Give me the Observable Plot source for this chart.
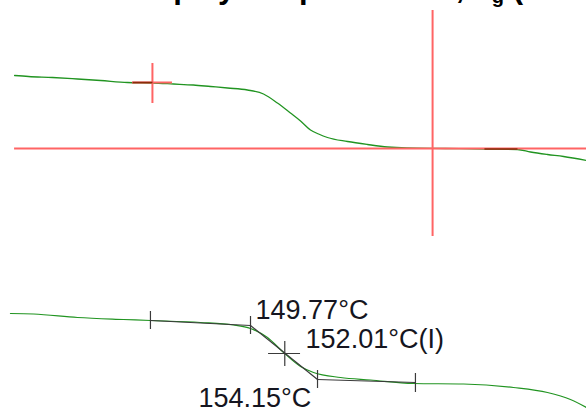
<!DOCTYPE html>
<html><head><meta charset="utf-8">
<script src="https://cdn.jsdelivr.net/npm/d3@7"></script>
<script src="https://cdn.jsdelivr.net/npm/@observablehq/plot@0.6"></script>
<style>
html,body{margin:0;padding:0;background:#fff;overflow:hidden}
#wrap{position:relative;width:586px;height:409px;overflow:hidden}
#title{position:absolute;left:-18px;top:-28px;font:bold 31px "Liberation Sans",Arial,sans-serif;line-height:31px;white-space:nowrap;color:#000;z-index:2}
#title sub{font-size:20px;vertical-align:-5px;line-height:0}
#chart svg{display:block}
</style></head><body>
<div id="wrap"><div id="title">Heat flow display: step methods, T<sub>g</sub> (DSC)</div><div id="chart"></div></div>
<script>
// ---- shared temperature axis (°C) ----
const tempDomain = [133.43, 171.73];

// ---- top panel: cursor view ----
const topTemp = [134.35,135.26,136.83,138.46,139.97,141.73,143.36,144.74,146.04,147.16,148.27,149.57,150.62,151.53,152.38,153.04,153.69,154.22,154.80,156.11,157.42,158.72,159.97,162.51,165.06,167.22,168.07,169.18,170.23,171.73];
const topHeat = [1.46,1.44,1.42,1.39,1.36,1.32,1.31,1.29,1.27,1.24,1.21,1.17,1.09,0.91,0.71,0.55,0.37,0.29,0.22,0.14,0.08,0.03,0.01,0.00,-0.01,-0.02,-0.07,-0.12,-0.16,-0.24];
const topHeatDomain = [-2.04, 2.96];
const cursorTemp = 161.67, cursorSpan = [-1.76, 2.76];
const refLevel = 0, refSpan = [134.35, 171.73];
const markTemp = 143.36, markHeat = 1.32, markSpanHeat = [0.90, 1.70], markSpanTemp = [142.06, 144.67];
const selA = [142.06, 143.36], selAHeat = 1.32;
const selB = [165.06, 167.22], selBHeat = -0.01;

// ---- bottom panel: step analysis ----
const botTemp = [134.08,135.59,138.46,141.47,143.23,146.50,148.66,149.77,150.88,151.93,153.04,153.89,155.65,157.61,160.42,163.69,166.96,169.18,170.68,171.73];
const botHeat = [1.34,1.33,1.26,1.22,1.20,1.16,1.11,1.04,0.86,0.56,0.28,0.16,0.06,0.01,-0.06,-0.07,-0.14,-0.24,-0.38,-0.54];
const botHeatDomain = [-0.58, 2.6];
const onset = 149.77, inflection = 152.01, endset = 154.15;
const fitTemp = [143.23, 149.77, 154.15, 160.55];
const fitHeat = [1.20, 1.10, 0.02, -0.04];
const tickLow = [1.02, 0.92, -0.16, -0.24];
const tickHigh = [1.38, 1.28, 0.20, 0.14];
const inflHeat = 0.54, inflSpanTemp = [150.95, 153.04], inflSpanHeat = [0.28, 0.78];
const labelTemp = [150.10, 153.37, 146.37];
const labelHeat = [1.24, 0.66, -0.52];
const labelText = [onset.toFixed(2) + "°C", inflection.toFixed(2) + "°C(I)", endset.toFixed(2) + "°C"];

const green = "#219421", red = "#ff6464", dark = "#8a2a0a", ink = "#3a3a3a";

const topData = topTemp.map((t, i) => ({t, h: topHeat[i]}));
const topPlot = Plot.plot({
  width: 586, height: 250, margin: 0,
  x: {domain: tempDomain, axis: null},
  y: {domain: topHeatDomain, axis: null},
  marks: [
    Plot.line(topData, {x: "t", y: "h", stroke: green, strokeWidth: 1.3, curve: "monotone-x"}),
    Plot.ruleY([{h: refLevel, a: refSpan[0], b: refSpan[1]}], {y: "h", x1: "a", x2: "b", stroke: red, strokeWidth: 2}),
    Plot.ruleX([{t: cursorTemp, a: cursorSpan[0], b: cursorSpan[1]}], {x: "t", y1: "a", y2: "b", stroke: red, strokeWidth: 2}),
    Plot.ruleY([{h: markHeat, a: markSpanTemp[0], b: markSpanTemp[1]}], {y: "h", x1: "a", x2: "b", stroke: red, strokeWidth: 2}),
    Plot.ruleX([{t: markTemp, a: markSpanHeat[0], b: markSpanHeat[1]}], {x: "t", y1: "a", y2: "b", stroke: red, strokeWidth: 2}),
    Plot.link([{a: selA[0], b: selA[1], h: selAHeat}, {a: selB[0], b: selB[1], h: selBHeat}], {x1: "a", x2: "b", y1: "h", y2: "h", stroke: dark, strokeWidth: 1.6})
  ]
});

const botData = botTemp.map((t, i) => ({t, h: botHeat[i]}));
const fitSegs = fitTemp.slice(0, -1).map((t, i) => ({x1: t, x2: fitTemp[i + 1], y1: fitHeat[i], y2: fitHeat[i + 1]}));
const ticks = fitTemp.map((t, i) => ({t, lo: tickLow[i], hi: tickHigh[i]}));
const labels = labelText.map((s, i) => ({s, t: labelTemp[i], h: labelHeat[i]}));
const botPlot = Plot.plot({
  width: 586, height: 159, margin: 0,
  x: {domain: tempDomain, axis: null},
  y: {domain: botHeatDomain, axis: null},
  marks: [
    Plot.line(botData, {x: "t", y: "h", stroke: green, strokeWidth: 1.2, curve: "monotone-x"}),
    Plot.link(fitSegs, {x1: "x1", x2: "x2", y1: "y1", y2: "y2", stroke: ink, strokeWidth: 1.2}),
    Plot.ruleX(ticks, {x: "t", y1: "lo", y2: "hi", stroke: ink, strokeWidth: 1.2}),
    Plot.ruleY([{h: inflHeat, a: inflSpanTemp[0], b: inflSpanTemp[1]}], {y: "h", x1: "a", x2: "b", stroke: ink, strokeWidth: 1.2}),
    Plot.ruleX([{t: inflection, a: inflSpanHeat[0], b: inflSpanHeat[1]}], {x: "t", y1: "a", y2: "b", stroke: ink, strokeWidth: 1.2}),
    Plot.text(labels, {x: "t", y: "h", text: "s", textAnchor: "start", lineAnchor: "bottom", fontSize: 27, fill: "#151520", fontFamily: "Liberation Sans, Arial, sans-serif"})
  ]
});

document.getElementById("chart").append(topPlot, botPlot);
</script>
</body></html>
